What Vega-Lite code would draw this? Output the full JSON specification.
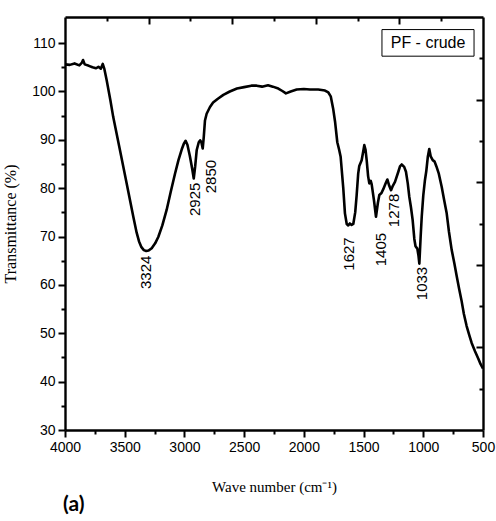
{
  "$schema": "https://vega.github.io/schema/vega-lite/v6.json",
  "width": 418,
  "height": 413,
  "autosize": "none",
  "padding": {"left": 65, "top": 17, "right": 13, "bottom": 91},
  "background": "white",
  "config": {"view": {"stroke": null}, "axis": {"grid": false}},
  "title": {"text": "(a)", "orient": "bottom", "anchor": "start", "frame": "group", "font": "Lato", "fontSize": 21, "fontWeight": "bold", "color": "black", "offset": 0, "dx": -2},
  "datasets": {
    "spectrum": [
      {"wn": 4000, "t": 105.6}, {"wn": 3960, "t": 105.5}, {"wn": 3920, "t": 105.8}, {"wn": 3880, "t": 105.4},
      {"wn": 3860, "t": 105.9}, {"wn": 3849, "t": 106.5}, {"wn": 3835, "t": 105.6}, {"wn": 3800, "t": 105.3},
      {"wn": 3770, "t": 105.0}, {"wn": 3740, "t": 104.8}, {"wn": 3720, "t": 105.1}, {"wn": 3700, "t": 104.7},
      {"wn": 3684, "t": 105.7}, {"wn": 3670, "t": 104.6}, {"wn": 3651, "t": 102.3}, {"wn": 3620, "t": 98.2},
      {"wn": 3596, "t": 94.7}, {"wn": 3540, "t": 87.9}, {"wn": 3484, "t": 81.0}, {"wn": 3428, "t": 74.1},
      {"wn": 3400, "t": 70.8}, {"wn": 3380, "t": 69.0}, {"wn": 3360, "t": 67.8}, {"wn": 3340, "t": 67.2},
      {"wn": 3320, "t": 67.0}, {"wn": 3300, "t": 67.1}, {"wn": 3274, "t": 67.6}, {"wn": 3245, "t": 68.6},
      {"wn": 3219, "t": 69.9}, {"wn": 3185, "t": 72.3}, {"wn": 3149, "t": 75.5}, {"wn": 3115, "t": 79.2},
      {"wn": 3079, "t": 83.0}, {"wn": 3050, "t": 85.8}, {"wn": 3023, "t": 88.0}, {"wn": 3005, "t": 89.2},
      {"wn": 2990, "t": 89.8}, {"wn": 2975, "t": 89.0}, {"wn": 2955, "t": 86.7}, {"wn": 2935, "t": 84.0},
      {"wn": 2922, "t": 82.0}, {"wn": 2910, "t": 84.5}, {"wn": 2897, "t": 87.9}, {"wn": 2880, "t": 89.5},
      {"wn": 2868, "t": 89.9}, {"wn": 2858, "t": 89.5}, {"wn": 2847, "t": 88.2}, {"wn": 2838, "t": 90.6},
      {"wn": 2828, "t": 94.0}, {"wn": 2814, "t": 95.4}, {"wn": 2786, "t": 96.8}, {"wn": 2760, "t": 97.7},
      {"wn": 2720, "t": 98.5}, {"wn": 2674, "t": 99.3}, {"wn": 2620, "t": 100.0}, {"wn": 2560, "t": 100.6},
      {"wn": 2500, "t": 100.9}, {"wn": 2440, "t": 101.2}, {"wn": 2395, "t": 101.2}, {"wn": 2350, "t": 101.0},
      {"wn": 2300, "t": 101.3}, {"wn": 2260, "t": 101.0}, {"wn": 2214, "t": 100.6}, {"wn": 2180, "t": 100.1},
      {"wn": 2150, "t": 99.6}, {"wn": 2110, "t": 100.0}, {"wn": 2060, "t": 100.4}, {"wn": 2000, "t": 100.5},
      {"wn": 1949, "t": 100.4}, {"wn": 1880, "t": 100.4}, {"wn": 1823, "t": 100.2}, {"wn": 1795, "t": 99.8},
      {"wn": 1775, "t": 99.0}, {"wn": 1755, "t": 96.5}, {"wn": 1739, "t": 93.8}, {"wn": 1720, "t": 89.5},
      {"wn": 1705, "t": 88.0}, {"wn": 1692, "t": 86.5}, {"wn": 1670, "t": 80.0}, {"wn": 1656, "t": 74.8},
      {"wn": 1641, "t": 72.6}, {"wn": 1628, "t": 72.3}, {"wn": 1615, "t": 72.7}, {"wn": 1600, "t": 72.4},
      {"wn": 1586, "t": 72.6}, {"wn": 1570, "t": 75.0}, {"wn": 1558, "t": 78.5}, {"wn": 1545, "t": 83.0},
      {"wn": 1536, "t": 84.6}, {"wn": 1516, "t": 85.8}, {"wn": 1500, "t": 88.0}, {"wn": 1494, "t": 88.9},
      {"wn": 1484, "t": 88.0}, {"wn": 1474, "t": 85.8}, {"wn": 1462, "t": 82.5}, {"wn": 1452, "t": 81.0},
      {"wn": 1440, "t": 81.5}, {"wn": 1432, "t": 80.8}, {"wn": 1413, "t": 77.5}, {"wn": 1396, "t": 74.1},
      {"wn": 1380, "t": 77.0}, {"wn": 1368, "t": 78.6}, {"wn": 1350, "t": 79.0}, {"wn": 1335, "t": 79.8},
      {"wn": 1315, "t": 81.0}, {"wn": 1301, "t": 81.8}, {"wn": 1285, "t": 80.5}, {"wn": 1270, "t": 79.6},
      {"wn": 1255, "t": 80.5}, {"wn": 1237, "t": 81.3}, {"wn": 1209, "t": 83.4}, {"wn": 1195, "t": 84.5},
      {"wn": 1181, "t": 84.9}, {"wn": 1160, "t": 84.4}, {"wn": 1145, "t": 83.4}, {"wn": 1130, "t": 81.0},
      {"wn": 1117, "t": 78.2}, {"wn": 1103, "t": 76.0}, {"wn": 1089, "t": 73.4}, {"wn": 1075, "t": 69.5},
      {"wn": 1065, "t": 68.0}, {"wn": 1050, "t": 67.5}, {"wn": 1040, "t": 66.0}, {"wn": 1033, "t": 64.4},
      {"wn": 1022, "t": 70.0}, {"wn": 1013, "t": 74.1}, {"wn": 1000, "t": 78.5}, {"wn": 986, "t": 81.7},
      {"wn": 975, "t": 83.5}, {"wn": 962, "t": 86.5}, {"wn": 950, "t": 88.1}, {"wn": 938, "t": 86.6},
      {"wn": 921, "t": 85.8}, {"wn": 905, "t": 85.5}, {"wn": 890, "t": 84.5}, {"wn": 870, "t": 83.0},
      {"wn": 846, "t": 80.3}, {"wn": 825, "t": 77.5}, {"wn": 804, "t": 74.8}, {"wn": 785, "t": 71.0},
      {"wn": 762, "t": 67.2}, {"wn": 740, "t": 64.5}, {"wn": 720, "t": 61.8}, {"wn": 700, "t": 59.2},
      {"wn": 680, "t": 56.8}, {"wn": 660, "t": 54.0}, {"wn": 637, "t": 51.5}, {"wn": 615, "t": 49.6},
      {"wn": 595, "t": 48.0}, {"wn": 567, "t": 46.3}, {"wn": 540, "t": 44.8}, {"wn": 520, "t": 43.6},
      {"wn": 500, "t": 42.7}
    ],
    "peaks": [
      {"wn": 3324, "t": 62.6, "label": "3324"},
      {"wn": 2912, "t": 77.7, "label": "2925"},
      {"wn": 2778, "t": 82.4, "label": "2850"},
      {"wn": 1620, "t": 66.4, "label": "1627"},
      {"wn": 1357, "t": 67.3, "label": "1405"},
      {"wn": 1245, "t": 75.4, "label": "1278"},
      {"wn": 1013, "t": 60.3, "label": "1033"}
    ],
    "legendbox": [
      {"x1": 1346, "x2": 575, "y1": 107.3, "y2": 112.8, "xc": 960, "yc": 110.1, "name": "PF - crude"}
    ]
  },
  "resolve": {"scale": {"x": "independent", "y": "independent"}},
  "layer": [
    {
      "data": {"name": "spectrum"},
      "mark": {"type": "line", "color": "black", "strokeWidth": 2.6, "clip": true, "strokeJoin": "round"},
      "encoding": {
        "x": {"field": "wn", "type": "quantitative",
          "scale": {"domain": [500, 4000], "reverse": true, "nice": false, "zero": false},
          "axis": {"orient": "bottom",
            "values": [4000, 3750, 3500, 3250, 3000, 2750, 2500, 2250, 2000, 1750, 1500, 1250, 1000, 750, 500],
            "format": "d",
            "labelExpr": "datum.value % 500 === 0 ? datum.label : ''",
            "tickSize": {"condition": {"test": "datum.value % 500 === 0", "value": 7}, "value": 4},
            "tickWidth": 2, "tickColor": "black", "domainColor": "black", "domainWidth": 2.4,
            "labelFont": "Liberation Sans", "labelFontSize": 14, "labelColor": "black", "labelPadding": 3,
            "labelFlush": false, "labelOverlap": false,
            "title": "Wave number (cm⁻¹)", "titleFont": "Liberation Serif", "titleFontSize": 15,
            "titleFontWeight": "normal", "titleColor": "black", "titlePadding": 25}},
        "y": {"field": "t", "type": "quantitative",
          "scale": {"domain": [30, 115.4], "nice": false, "zero": false},
          "axis": {"orient": "left",
            "values": [30, 35, 40, 45, 50, 55, 60, 65, 70, 75, 80, 85, 90, 95, 100, 105, 110],
            "labelExpr": "datum.value % 10 === 0 ? datum.label : ''",
            "tickSize": {"condition": {"test": "datum.value % 10 === 0", "value": 7}, "value": 4},
            "tickWidth": 2, "tickColor": "black", "domainColor": "black", "domainWidth": 2.4,
            "labelFont": "Liberation Sans", "labelFontSize": 14, "labelColor": "black", "labelPadding": 3,
            "labelFlush": false, "labelOverlap": false,
            "title": "Transmittance (%)", "titleFont": "Liberation Serif", "titleFontSize": 16,
            "titleFontWeight": "normal", "titleColor": "black", "titlePadding": 13}}
      }
    },
    {
      "data": {"name": "peaks"},
      "mark": {"type": "text", "angle": 270, "align": "center", "baseline": "middle", "font": "Liberation Sans", "fontSize": 15, "color": "black"},
      "encoding": {
        "x": {"field": "wn", "type": "quantitative",
          "scale": {"domain": [500, 4000], "reverse": true, "nice": false, "zero": false},
          "axis": {"orient": "top",
            "values": [3650, 3300, 2950, 2600, 2250, 1900, 1550, 1200, 850],
            "labels": false, "title": null,
            "tickSize": {"condition": {"test": "round((4000 - datum.value) / 350) % 2 === 0", "value": -7}, "value": -4},
            "tickWidth": 2, "tickColor": "black", "domainColor": "black", "domainWidth": 2.4}},
        "y": {"field": "t", "type": "quantitative",
          "scale": {"domain": [30, 115.4], "nice": false, "zero": false},
          "axis": {"orient": "right",
            "values": [38.54, 47.08, 55.62, 64.16, 72.7, 81.24, 89.78, 98.32, 106.86],
            "labels": false, "title": null,
            "tickSize": {"condition": {"test": "round((datum.value - 30) / 8.54) % 2 === 0", "value": -7}, "value": -4},
            "tickWidth": 2, "tickColor": "black", "domainColor": "black", "domainWidth": 2.4}},
        "text": {"field": "label", "type": "nominal"}
      }
    },
    {
      "data": {"name": "legendbox"},
      "mark": {"type": "rect", "fill": "white", "stroke": "black", "strokeWidth": 1},
      "encoding": {
        "x": {"field": "x1", "type": "quantitative", "scale": {"domain": [500, 4000], "reverse": true, "nice": false, "zero": false}, "axis": null},
        "x2": {"field": "x2"},
        "y": {"field": "y1", "type": "quantitative", "scale": {"domain": [30, 115.4], "nice": false, "zero": false}, "axis": null},
        "y2": {"field": "y2"}
      }
    },
    {
      "data": {"name": "legendbox"},
      "mark": {"type": "text", "align": "center", "baseline": "middle", "font": "Liberation Sans", "fontSize": 16, "color": "black"},
      "encoding": {
        "x": {"field": "xc", "type": "quantitative", "scale": {"domain": [500, 4000], "reverse": true, "nice": false, "zero": false}, "axis": null},
        "y": {"field": "yc", "type": "quantitative", "scale": {"domain": [30, 115.4], "nice": false, "zero": false}, "axis": null},
        "text": {"field": "name", "type": "nominal"}
      }
    }
  ]
}
